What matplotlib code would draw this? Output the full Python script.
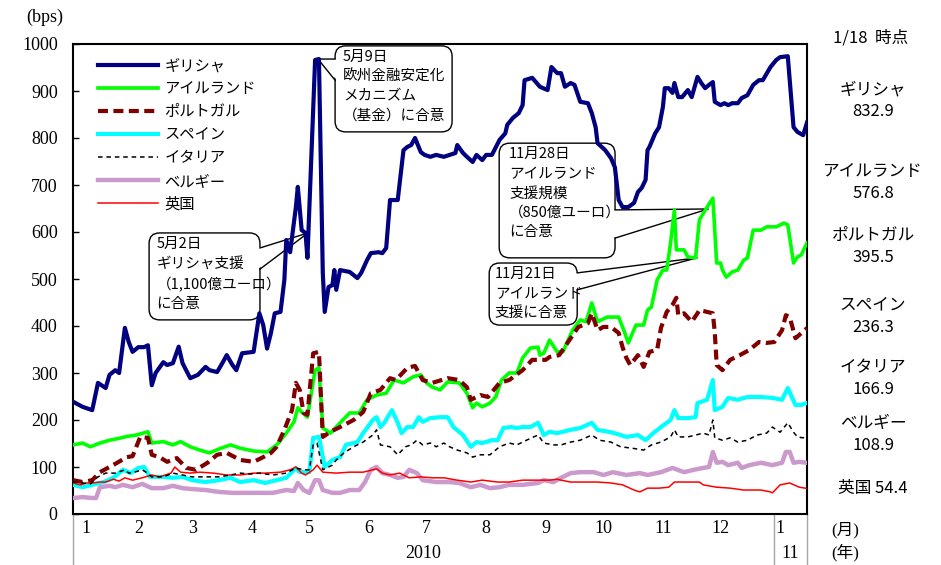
import matplotlib
matplotlib.use('Agg')
import matplotlib.pyplot as plt
import matplotlib.transforms as mtransforms
from matplotlib.patches import FancyBboxPatch, Polygon
import numpy as np

plt.rcParams['font.family'] = ['Noto Sans CJK JP', 'DejaVu Sans']

# 2010/1/1 からの経過日数, スプレッド(bps)
greece = [(0,239),(5,228),(10,221),(13,279),(17,268),(19,296),(22,306),(24,300),(27,396),(29,366),
          (31,345),(34,355),(37,355),(39,359),(41,274),(43,300),(47,323),(49,317),(52,321),(55,356),
          (57,321),(61,289),(65,296),(69,313),(71,306),(75,302),(78,323),(80,338),(83,317),(85,306),
          (88,342),(94,345),(97,427),(99,402),(101,352),(103,385),(105,427),(108,430),(110,498),(111,583),
          (113,557),(116,653),(117,696),(119,604),(121,598),(122,545),(126,966),(128,968),(130,513),(131,430),
          (133,483),(135,487),(136,519),(137,477),(139,519),(144,515),(148,502),(150,513),(153,540),(155,555),
          (159,557),(161,555),(163,566),(165,668),(169,668),(172,774),(174,781),(176,785),(178,800),(181,770),
          (183,764),(186,760),(189,764),(193,760),(196,764),(199,768),(200,785),(203,768),(205,760),(208,749),
          (210,764),(213,753),(215,764),(218,764),(222,796),(225,810),(226,828),(229,843),(232,853),(234,870),
          (235,923),(239,928),(243,909),(247,902),(249,951),(252,938),(254,938),(256,909),(259,917),(261,913),
          (264,877),(268,874),(270,853),(272,823),(273,789),(277,774),(280,757),(282,738),(284,668),(286,653),
          (289,653),(292,662),(294,685),(296,694),(298,711),(299,774),(300,781),(303,810),(305,823),(307,866),
          (308,906),(310,906),(312,896),(313,917),(315,887),(317,887),(320,902),(322,887),(325,930),(327,917),
          (329,906),(331,913),(333,919),(334,877),(337,870),(339,874),(341,870),(343,874),(346,874),(348,885),
          (351,891),(354,913),(357,923),(359,923),(363,951),(366,966),(368,972),(372,974),(373,923),(375,823),
          (377,813),(380,806),(382,832.9)]
ireland = [(0,147),(5,151),(9,143),(14,151),(19,157),(24,161),(28,165),(33,168),(39,175),(41,151),
           (47,154),(52,147),(56,154),(61,143),(66,136),(71,130),(77,140),(82,147),(87,140),(94,134),
           (101,132),(106,147),(111,172),(115,196),(117,226),(119,217),(122,206),(124,257),(126,306),(128,311),
           (130,183),(134,172),(139,194),(144,215),(149,215),(153,243),(158,253),(163,257),(167,285),(172,279),
           (177,292),(181,296),(184,279),(187,270),(191,264),(195,281),(201,279),(205,257),(208,226),(210,236),
           (213,228),(217,236),(220,249),(223,285),(227,300),(231,300),(234,332),(238,353),(242,355),(243,338),
           (245,342),(248,370),(252,345),(255,345),(257,364),(260,391),(264,413),(267,409),(270,449),(273,409),
           (278,419),(284,419),(287,387),(289,364),(293,402),(297,402),(299,434),(301,440),(304,498),(307,519),
           (309,519),(311,577),(313,647),(314,562),(318,562),(320,547),(324,545),(326,626),(330,653),(333,672),
           (335,534),(337,534),(338,519),(340,504),(343,515),(346,519),(349,540),(351,545),(354,604),(358,604),
           (361,611),(366,611),(370,619),(372,615),(375,534),(377,547),(379,551),(382,576.8)]
portugal = [(0,72),(5,68),(10,72),(14,89),(19,100),(23,109),(28,121),(31,123),(35,164),(39,162),
            (41,126),(45,121),(49,111),(54,119),(59,98),(64,94),(70,109),(75,126),(80,130),(87,115),
            (94,111),(99,121),(103,130),(106,143),(110,179),(114,221),(116,279),(118,264),(120,215),(122,211),
            (125,342),(128,345),(130,164),(134,175),(139,185),(146,200),(151,217),(155,257),(160,264),(165,289),
            (168,285),(174,311),(178,315),(182,285),(187,279),(195,289),(201,285),(205,270),(207,243),(212,253),
            (216,249),(222,279),(227,285),(234,306),(239,328),(246,328),(248,334),(253,338),(259,374),(263,398),
            (268,406),(270,427),(273,391),(276,398),(280,398),(284,385),(286,355),(288,332),(290,317),(294,338),
            (297,313),(300,345),(304,349),(306,396),(309,430),(312,445),(314,460),(315,423),(318,427),(322,409),
            (325,427),(326,434),(330,430),(333,427),(334,387),(335,317),(338,306),(342,328),(347,338),(352,349),
            (357,366),(361,364),(365,366),(369,391),(371,423),(373,419),(376,374),(378,381),(382,395.5)]
spain = [(0,62),(5,57),(10,62),(16,68),(21,77),(26,94),(30,87),(34,98),(37,100),(40,79),
         (47,79),(52,77),(57,79),(62,72),(69,68),(76,72),(82,77),(87,68),(94,72),(100,66),
         (106,72),(111,77),(116,98),(118,89),(123,89),(125,162),(128,164),(131,100),(135,115),(139,121),
         (142,147),(148,153),(151,172),(156,200),(158,206),(160,185),(162,194),(166,221),(169,194),(171,172),
         (174,185),(177,185),(180,206),(182,196),(186,204),(191,206),(195,206),(198,185),(203,168),(207,143),
         (210,153),(213,151),(218,157),(221,157),(224,183),(228,185),(231,183),(234,185),(238,185),(242,194),
         (245,168),(248,175),(252,172),(254,174),(259,179),(264,183),(270,194),(273,179),(280,174),(285,168),
         (288,164),(294,168),(298,157),(302,172),(306,185),(311,200),(313,221),(315,204),(320,204),(324,206),
         (325,236),(330,243),(333,285),(334,221),(338,228),(341,247),(346,243),(351,249),(358,249),(364,247),
         (369,243),(372,268),(376,232),(379,232),(382,236.3)]
italy = [(0,68),(5,66),(9,64),(13,79),(17,87),(22,87),(27,94),(29,87),(32,89),(36,94),
         (38,89),(41,79),(47,79),(52,87),(57,83),(62,79),(69,79),(76,79),(82,83),(87,87),
         (92,85),(97,87),(104,83),(111,87),(116,98),(120,94),(123,94),(125,147),(127,151),(130,94),
         (135,104),(137,115),(141,130),(146,143),(151,153),(156,168),(158,179),(160,147),(165,143),(169,126),
         (173,143),(176,147),(179,157),(182,147),(186,151),(189,143),(193,151),(196,143),(200,136),(205,130),
         (208,121),(212,126),(217,126),(222,143),(227,151),(231,147),(236,157),(242,168),(245,151),(250,147),
         (254,147),(259,153),(264,157),(270,168),(274,157),(280,153),(285,143),(291,140),(297,136),(301,147),
         (306,153),(311,164),(313,179),(315,164),(320,164),(324,168),(328,172),(331,168),(333,200),(334,162),
         (338,157),(342,162),(346,153),(351,157),(356,168),(361,172),(364,185),(368,174),(372,194),(375,174),
         (377,164),(380,162),(382,166.9)]
belgium = [(0,34),(5,36),(10,34),(12,34),(14,57),(19,60),(22,57),(26,62),(31,57),(36,64),
           (41,55),(47,55),(52,60),(57,55),(62,53),(69,51),(76,47),(83,45),(90,45),(97,45),
           (104,45),(111,51),(115,49),(117,66),(120,51),(123,45),(126,72),(128,72),(130,51),(135,45),
           (139,45),(144,51),(149,51),(152,68),(155,94),(158,100),(161,87),(165,83),(169,77),(172,79),
           (175,94),(179,87),(182,72),(189,68),(196,68),(201,66),(207,57),(212,62),(217,55),(222,57),
           (227,62),(234,62),(242,66),(245,72),(250,68),(254,77),(259,87),(264,89),(271,89),(276,83),
           (281,89),(288,83),(295,87),(299,83),(306,89),(312,98),(318,89),(323,94),(328,98),(331,100),
           (333,132),(335,109),(338,111),(341,104),(346,109),(348,98),(352,104),(358,109),(364,104),(369,109),
           (371,132),(373,132),(375,109),(378,111),(382,108.9)]
uk = [(0,66),(4,62),(7,66),(10,66),(14,68),(17,68),(21,74),(24,70),(27,77),(31,72),
      (36,77),(41,83),(45,79),(51,87),(53,100),(56,89),(61,87),(66,89),(73,87),(80,83),
      (87,83),(94,87),(100,87),(108,89),(113,94),(116,100),(119,87),(121,83),(125,94),(127,104),
      (130,89),(137,87),(144,89),(151,89),(158,96),(161,87),(165,83),(170,87),(175,77),(181,79),
      (187,77),(193,77),(200,72),(207,68),(213,72),(221,68),(227,68),(234,72),(242,72),(248,72),
      (252,74),(254,72),(259,68),(266,68),(273,68),(280,66),(286,62),(292,51),(295,47),(299,55),
      (305,55),(310,57),(313,68),(320,68),(326,68),(328,62),(335,57),(342,55),(349,51),(358,51),
      (363,47),(364,45),(368,62),(373,66),(378,57),(382,54.4)]

names = ['ギリシャ', 'アイルランド', 'ポルトガル', 'スペイン', 'イタリア', 'ベルギー', '英国']
latest = [832.9, 576.8, 395.5, 236.3, 166.9, 108.9, 54.4]
month_start = [0, 31, 59, 90, 120, 151, 181, 212, 243, 273, 304, 334, 365]
month_labels = ['1', '2', '3', '4', '5', '6', '7', '8', '9', '10', '11', '12', '1']
year_labels = ['2010', '11']
year_span = [(0, 365), (365, 382)]

series = [greece, ireland, portugal, spain, italy, belgium, uk]
styles = [
    dict(color='#000080', lw=3.0, ls='-'),
    dict(color='#00ff00', lw=2.6, ls='-'),
    dict(color='#800000', lw=3.0, ls=(0, (2.4, 1.3))),
    dict(color='#00ffff', lw=3.0, ls='-'),
    dict(color='black', lw=1.1, ls=(0, (3, 2.5))),
    dict(color='#cc99cc', lw=3.2, ls='-'),
    dict(color='#ff0000', lw=1.1, ls='-'),
]
zorders = [3, 4, 5, 6, 8, 4.5, 7]

fig = plt.figure(figsize=(9.41, 5.65), dpi=100)
ax = fig.add_axes([73/941, 51/565, 734/941, 470/565])

for data, name, st, z in zip(series, names, styles, zorders):
    d = np.array(data, dtype=float)
    ax.plot(d[:, 0], d[:, 1], color=st['color'], lw=st['lw'], ls=st['ls'],
            label=name, zorder=z, solid_joinstyle='round')

ax.set_xlim(0, 382)
ax.set_ylim(0, 1000)
ax.set_yticks(np.arange(0, 1001, 100))
ax.tick_params(axis='y', direction='in', length=4, width=1, pad=11, labelsize=13)
offsets = [7] + [3] * 12
ax.set_xticks([m + o for m, o in zip(month_start, offsets)])
ax.set_xticklabels(month_labels)
ax.tick_params(axis='x', length=0, pad=4, labelsize=13)
for lab in ax.get_yticklabels() + ax.get_xticklabels():
    lab.set_fontfamily('Liberation Serif')
for sp in ax.spines.values():
    sp.set_linewidth(1.5)
    sp.set_color('black')

trans = mtransforms.blended_transform_factory(ax.transData, ax.transAxes)
for d in [0, 365, 382]:
    ax.plot([d, d], [0, -0.115], transform=trans, color='#a6a6a6', lw=1, clip_on=False)
for lab, (a, b) in zip(year_labels, year_span):
    ax.text((a + b) / 2, -0.083, lab, transform=trans, ha='center', va='center',
            fontsize=13, family='Liberation Serif')

leg = ax.legend(loc='upper left', bbox_to_anchor=(0.034, 0.972), frameon=False,
                fontsize=11, handlelength=3.9, handletextpad=0.45, labelspacing=0.4,
                borderpad=0, borderaxespad=0)
leg.set_zorder(10)

# 吹き出し
asp = (1000 / 470) / (382 / 734)


def callout(x0, x1, y0, y1, apex, b1, b2, side, text, tx, ty):
    box = FancyBboxPatch((x0, y0), x1 - x0, y1 - y0,
                         boxstyle='round,pad=0,rounding_size=5.5', mutation_aspect=asp,
                         fc='white', ec='black', lw=1, zorder=1.5)
    ax.add_patch(box)
    bx = x0 if side == 'left' else x1
    inner = 1.2 if side == 'left' else -1.2
    ax.add_patch(Polygon([apex, (bx + inner, b1), (bx + inner, b2)], closed=True,
                         fc='white', ec='none', zorder=1.6))
    ax.plot([bx, apex[0], bx], [b1, apex[1], b2], color='black', lw=1, zorder=1.7)
    ax.text(tx, ty, text, ha='left', va='top', fontsize=10.5, linespacing=1.5, zorder=1.8)


callout(136.4, 197.3, 813, 996, (127.5, 968), 968, 923, 'left',
        '5月9日\n欧州金融安定化\nメカニズム\n（基金）に合意', 140.5, 987)
callout(39.6, 97.3, 413, 598, (122.3, 598), 566, 521, 'right',
        '5月2日\nギリシャ支援\n（1,100億ユーロ）\nに合意', 43.5, 589)
callout(221.8, 282.1, 545, 789, (330.6, 649), 647, 587, 'right',
        '11月28日\nアイルランド\n支援規模\n（850億ユーロ）\nに合意', 227, 780)
callout(216.6, 262.4, 402, 534, (324.8, 545), 513, 477, 'right',
        '11月21日\nアイルランド\n支援に合意', 219.5, 525)

# 右側の数値
W, H = 941, 565
fig.text(45/W, 1 - 17/H, '(bps)', ha='center', va='center', fontsize=13, family='Liberation Serif')
fig.text(871/W, 1 - 38/H, '1/18  時点', ha='center', va='center', fontsize=12)
name_y = [90, 172, 235, 305, 368, 423]
for name, val, y in zip(names[:-1], latest[:-1], name_y):
    fig.text(873/W, 1 - y/H, name, ha='center', va='center', fontsize=12)
    fig.text(873/W, 1 - (y + 22)/H, f'{val:.1f}', ha='center', va='center', fontsize=12)
fig.text(873/W, 1 - 489/H, f'{names[-1]} {latest[-1]:.1f}', ha='center', va='center', fontsize=12)
fig.text(845/W, 1 - 530/H, '(月)', ha='center', va='center', fontsize=12,
         family=['Liberation Serif', 'Noto Sans CJK JP'])
fig.text(845/W, 1 - 553/H, '(年)', ha='center', va='center', fontsize=12,
         family=['Liberation Serif', 'Noto Sans CJK JP'])

fig.savefig('out.png', dpi=100)
